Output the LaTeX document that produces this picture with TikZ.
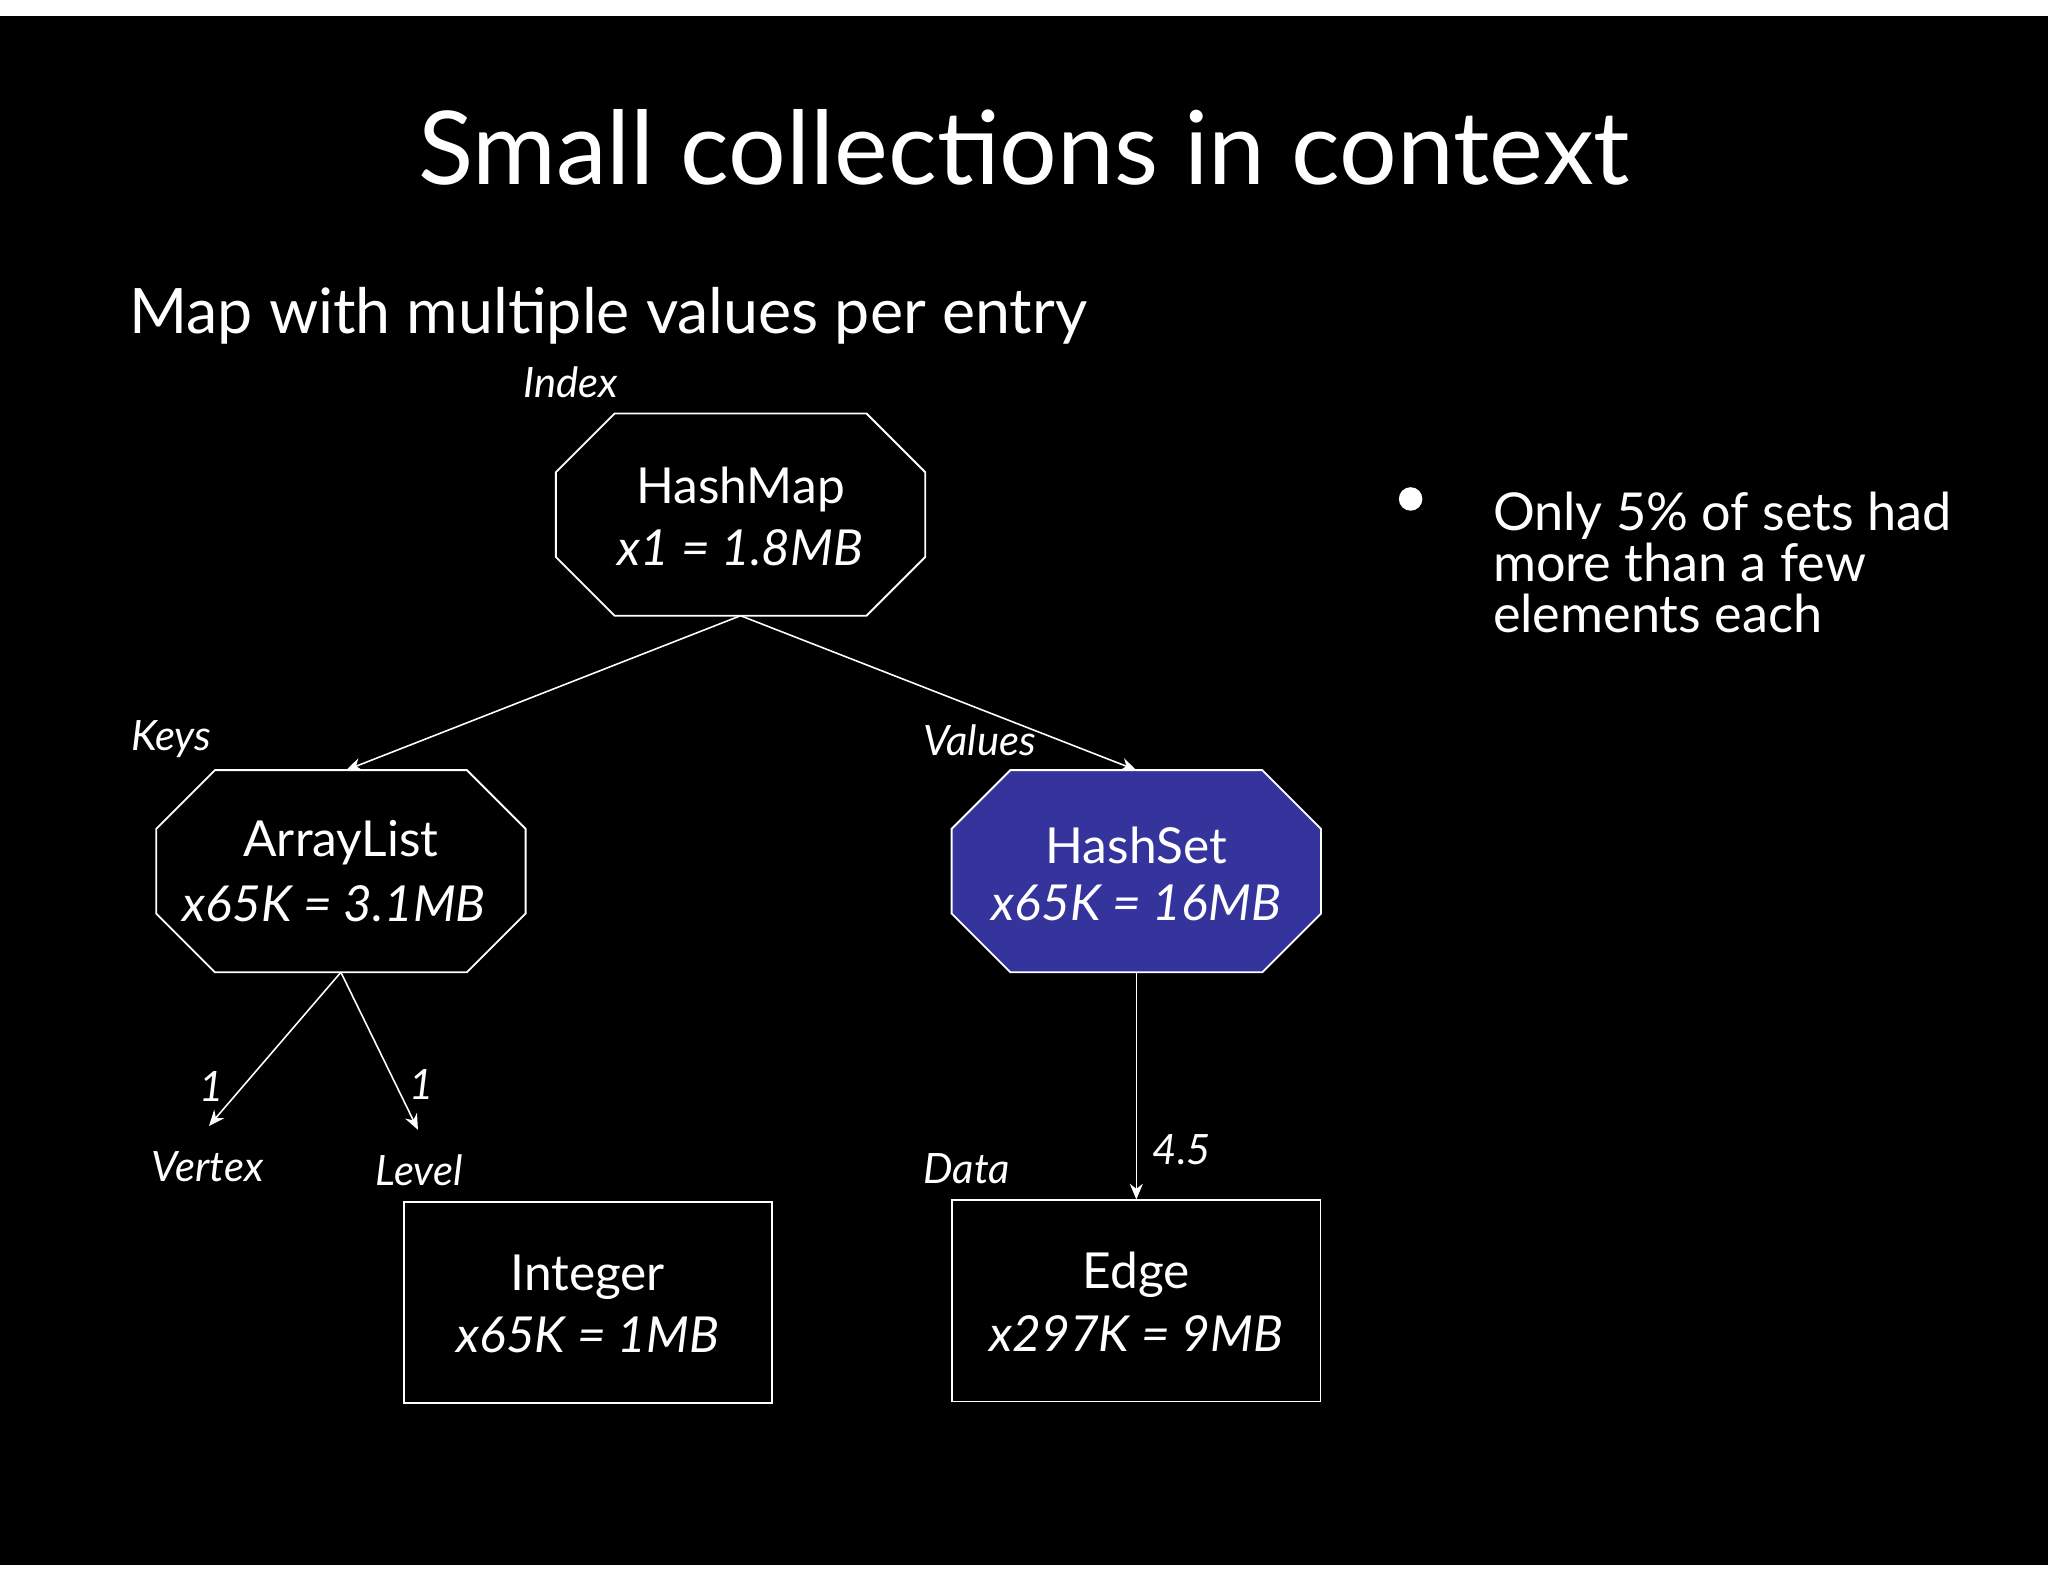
\documentclass[tikz,border=0pt]{standalone}
\usepackage{fontspec}
\setmainfont{Lato}
\usetikzlibrary{arrows.meta}
\definecolor{hsblue}{HTML}{35349C}
\newcommand{\octo}[2]{%
  \path[draw=white,line width=0.7pt,fill=#2]
   ([xshift=45*0.5pt]#1.north west) -- ([xshift=-45*0.5pt]#1.north east)
   -- ([yshift=-45*0.5pt]#1.north east) -- ([yshift=45*0.5pt]#1.south east)
   -- ([xshift=-45*0.5pt]#1.south east) -- ([xshift=45*0.5pt]#1.south west)
   -- ([yshift=45*0.5pt]#1.south west) -- ([yshift=-45*0.5pt]#1.north west) -- cycle;}
\begin{document}
\begin{tikzpicture}[x=0.5pt,y=-0.5pt,
  txt/.style={text=white,font=\fontsize{19}{23}\selectfont,align=center},
  lbl/.style={text=white,font=\fontsize{16}{19}\selectfont\itshape},
  boxn/.style={minimum width=141pt,minimum height=77pt,inner sep=0pt},
  conn/.style={draw=white,line width=0.6pt,-{Stealth[length=6pt,width=5pt]}}]
\fill[white] (0,0) rectangle (1568,1211);
\fill[black] (0,12) rectangle (1568,1198);
\node[text=white,font=\fontsize{39}{46}\selectfont] (title) at (784,113) {Small collections in context};
\node[text=white,font=\fontsize{24}{29}\selectfont,anchor=west] (sub) at (92,242) {Map with multiple values per entry};
\node[boxn] (hm) at (567,394) {};
\node[boxn] (al) at (261,667) {};
\node[boxn] (hs) at (870,667) {};
\node[boxn,draw=white,line width=0.7pt] (int) at (450,997) {};
\node[boxn,draw=white,line width=0.7pt] (edge) at (870,996) {};
\octo{hm}{black}
\octo{al}{black}
\octo{hs}{hsblue}
\node[txt] (hmt) at (567,375) {HashMap};
\node[txt,font=\fontsize{19}{23}\selectfont\itshape] (hmv) at (567,419) {x1 = 1.8MB};
\node[txt] (alt) at (261,645) {ArrayList};
\node[txt,font=\fontsize{19}{23}\selectfont\itshape] (alv) at (256,692) {x65K = 3.1MB};
\node[txt] (hst) at (870,647) {HashSet};
\node[txt,font=\fontsize{19}{23}\selectfont\itshape] (hsv) at (870,691) {x65K = 16MB};
\node[txt] (intt) at (450,978) {Integer};
\node[txt,font=\fontsize{19}{23}\selectfont\itshape] (intv) at (450,1022) {x65K = 1MB};
\node[txt] (edt) at (870,976) {Edge};
\node[txt,font=\fontsize{19}{23}\selectfont\itshape] (edv) at (870,1021) {x297K = 9MB};
\node[lbl] (idx) at (437,293) {Index};
\node[lbl] (keys) at (131,566) {Keys};
\node[lbl] (vals) at (750,567) {Values};
\node[lbl] (vx) at (159,893) {Vertex};
\node[lbl] (lv) at (321,896) {Level};
\node[lbl] (dt) at (740,895) {Data};
\node[lbl] (n1) at (162,832) {1};
\node[lbl] (n2) at (323,830) {1};
\node[lbl] (n45) at (905,880) {4.5};
\coordinate (vxa) at (160,862);
\coordinate (lva) at (320,865);
\draw[conn] (hm.south) -- ([xshift=2pt]al.north);
\draw[conn] (hm.south) -- (hs.north);
\draw[conn] (al.south) -- (vxa);
\draw[conn] (al.south) -- (lva);
\draw[conn] (hs.south) -- (edge.north);
\fill[white] (1080,382) circle (4.5pt);
\node[text=white,font=\fontsize{20}{19.5}\selectfont,align=left,anchor=north west] (bul) at (1136,370) {Only 5\% of sets had\\more than a few\\elements each};
\end{tikzpicture}
\end{document}
